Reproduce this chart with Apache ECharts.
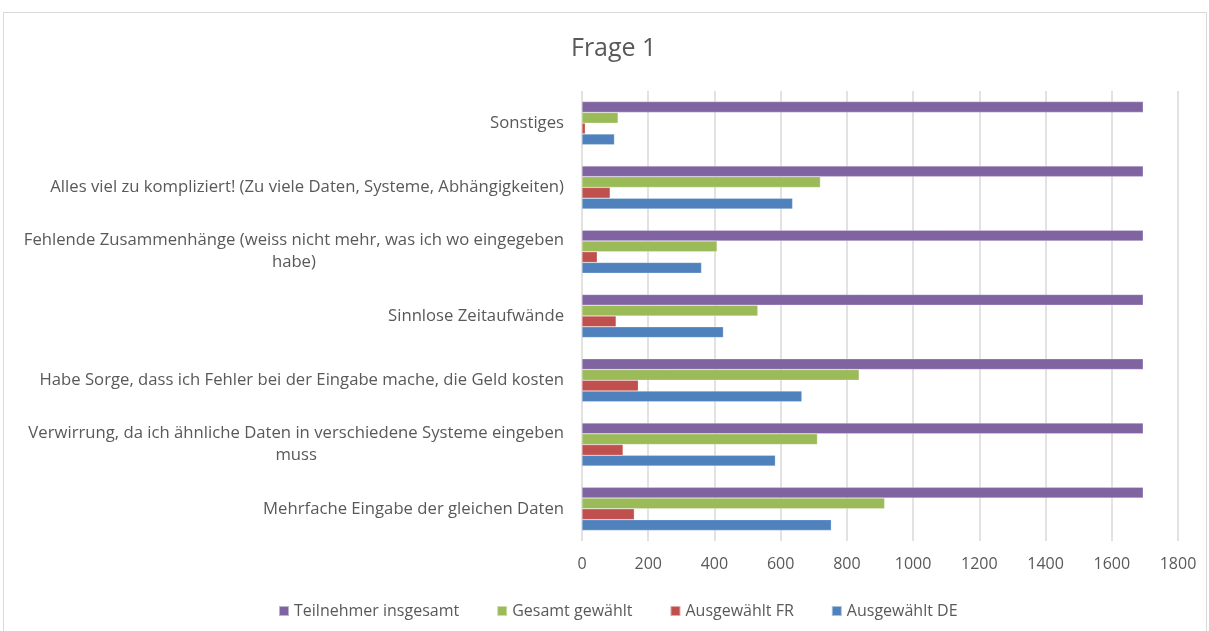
<!DOCTYPE html>
<html>
<head>
<meta charset="utf-8">
<script src="https://cdn.jsdelivr.net/npm/echarts@6/dist/echarts.min.js"></script>
<style>
  html, body { margin: 0; padding: 0; background: #fff; }
  #chart { width: 1209px; height: 631px; }
</style>
</head>
<body>
<div id="chart"></div>
<script>
// categories from bottom to top
const categories = [
  'Mehrfache Eingabe der gleichen Daten',
  'Verwirrung, da ich ähnliche Daten in verschiedene Systeme eingeben\nmuss',
  'Habe Sorge, dass ich Fehler bei der Eingabe mache, die Geld kosten',
  'Sinnlose Zeitaufwände',
  'Fehlende Zusammenhänge (weiss nicht mehr, was ich wo eingegeben\nhabe)',
  'Alles viel zu kompliziert! (Zu viele Daten, Systeme, Abhängigkeiten)',
  'Sonstiges'
];
// series listed top bar first within each category
const seriesNames = ['Teilnehmer insgesamt', 'Gesamt gewählt', 'Ausgewählt FR', 'Ausgewählt DE'];

const teilnehmerInsgesamt = [1695, 1695, 1695, 1695, 1695, 1695, 1695];
const gesamtGewaehlt = [914, 711, 837, 531, 408, 720, 109];
const ausgewaehltFR = [158, 124, 170, 103, 46, 85, 10];
const ausgewaehltDE = [753, 584, 664, 427, 361, 636, 98];

const xTicks = { min: 0, max: 1800, interval: 200 };

const colors = ['#8064A2', '#9BBB59', '#C0504D', '#4F81BD'];
const font = '"Open Sans", "Noto Sans", sans-serif';
const gray = '#595959';

const chart = echarts.init(document.getElementById('chart'));

// second line of wrapped labels is centred under the first
const labelFormatter = val => {
  const parts = val.split('\n');
  if (parts.length === 1) return '{a|' + parts[0] + '}';
  return '{a|' + parts[0] + '}\n{c|' + parts[1] + '}';
};

const data = [teilnehmerInsgesamt, gesamtGewaehlt, ausgewaehltFR, ausgewaehltDE];

chart.setOption({
  animation: false,
  backgroundColor: '#fff',
  textStyle: { fontFamily: font },
  graphic: [{
    type: 'rect',
    shape: { x: 3.5, y: 12.5, width: 1203, height: 640 },
    style: { fill: 'none', stroke: '#d9d9d9', lineWidth: 1 },
    silent: true
  }],
  title: {
    text: 'Frage 1',
    left: 566,
    top: 31,
    textStyle: { fontFamily: font, fontSize: 25, fontWeight: 'normal', color: gray }
  },
  legend: {
    data: seriesNames,
    top: 598,
    left: 273,
    icon: 'rect',
    itemWidth: 10,
    itemHeight: 10,
    itemGap: 37,
    textStyle: { fontFamily: font, fontSize: 16, color: gray }
  },
  grid: { left: 582, right: 31, top: 91, bottom: 90, containLabel: false },
  xAxis: {
    type: 'value',
    min: xTicks.min,
    max: xTicks.max,
    interval: xTicks.interval,
    axisLine: { show: false },
    axisTick: { show: false },
    splitLine: { lineStyle: { color: '#d9d9d9', width: 1.5 } },
    axisLabel: { color: gray, fontSize: 16, margin: 15, fontFamily: font, formatter: v => String(v) }
  },
  yAxis: {
    type: 'category',
    data: categories,
    axisLine: { show: false },
    axisTick: { show: false },
    axisLabel: {
      interval: 0,
      margin: 18,
      align: 'right',
      color: gray,
      fontSize: 16.7,
      lineHeight: 22,
      formatter: labelFormatter,
      rich: {
        a: { color: gray, fontSize: 16.7, lineHeight: 22, fontFamily: font },
        c: { color: gray, fontSize: 16.7, lineHeight: 22, fontFamily: font, align: 'center' }
      }
    }
  },
  series: seriesNames.map((name, i) => ({
    name,
    type: 'bar',
    data: data[i],
    barGap: '0%',
    barCategoryGap: '33%',
    itemStyle: { color: colors[i], borderColor: 'rgba(255,255,255,0.5)', borderWidth: 0.5 }
  }))
});
</script>
</body>
</html>
